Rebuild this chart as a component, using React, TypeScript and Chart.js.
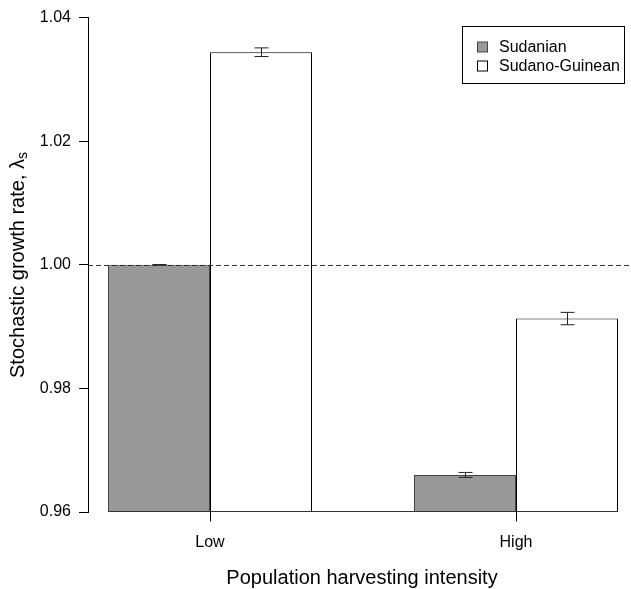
import React, { useEffect, useRef } from "react";
import { Chart, registerables } from "chart.js";
Chart.register(...registerables);

const categories = ["Low", "High"];
const seriesNames = ["Sudanian", "Sudano-Guinean"];
const sudanian = [1.0, 0.966];
const sudanianErr = [0.00004, 0.0004];
const sudanoGuinean = [1.0344, 0.9913];
const sudanoGuineanErr = [0.0007, 0.001];
const yTicks = [0.96, 0.98, 1.0, 1.02, 1.04];
const referenceLine = 1.0;
const xTitle = "Population harvesting intensity";
const yTitleMain = "Stochastic growth rate, λ";
const yTitleSub = "s";

const FONT = "'Liberation Sans', Arial, Helvetica, sans-serif";
const errorsBySeries = [sudanianErr, sudanoGuineanErr];

const overlayPlugin = {
  id: "overlay",
  afterDatasetsDraw(chart: any) {
    const ctx = chart.ctx;
    const ca = chart.chartArea;
    const yS = chart.scales.y;
    ctx.save();
    ctx.lineWidth = 1;
    chart.data.datasets.forEach((ds: any, di: number) => {
      const meta = chart.getDatasetMeta(di);
      meta.data.forEach((el: any, i: number) => {
        const v = ds.data[i].y;
        const e = errorsBySeries[di][i];
        const yt = yS.getPixelForValue(v + e);
        const yb = yS.getPixelForValue(v - e);
        const x = Math.round(el.x) + 0.5;
        ctx.strokeStyle = "#222222";
        ctx.beginPath();
        ctx.moveTo(x, yt);
        ctx.lineTo(x, yb);
        ctx.moveTo(x - 7, yt);
        ctx.lineTo(x + 7, yt);
        ctx.moveTo(x - 7, yb);
        ctx.lineTo(x + 7, yb);
        ctx.stroke();
      });
    });
    const yr = Math.round(yS.getPixelForValue(referenceLine)) + 0.5;
    ctx.strokeStyle = "#333333";
    ctx.setLineDash([5, 3]);
    ctx.beginPath();
    ctx.moveTo(ca.left, yr);
    ctx.lineTo(ca.right, yr);
    ctx.stroke();
    ctx.setLineDash([]);
    ctx.restore();
  },
  afterDraw(chart: any) {
    const ctx = chart.ctx;
    const ca = chart.chartArea;
    const xS = chart.scales.x;
    ctx.save();
    // x axis line and tick marks
    const m0 = chart.getDatasetMeta(0).data[0];
    const mL = chart.getDatasetMeta(chart.data.datasets.length - 1).data;
    const last = mL[mL.length - 1];
    const yb0 = Math.round(ca.bottom) - 0.5;
    ctx.lineWidth = 1;
    ctx.strokeStyle = "#333333";
    ctx.beginPath();
    ctx.moveTo(m0.x - m0.width / 2, yb0);
    ctx.lineTo(last.x + last.width / 2, yb0);
    ctx.stroke();
    ctx.strokeStyle = "#000000";
    ctx.beginPath();
    categories.forEach((_, i) => {
      const px = Math.round(xS.getPixelForValue(i)) + 0.5;
      ctx.moveTo(px, yb0);
      ctx.lineTo(px, yb0 + 10);
    });
    ctx.stroke();
    // legend
    const bx = 462.5, by = 26.5, bw = 162, bh = 57;
    ctx.fillStyle = "#ffffff";
    ctx.fillRect(bx, by, bw, bh);
    ctx.strokeStyle = "#000000";
    ctx.strokeRect(bx, by, bw, bh);
    ctx.font = `16px ${FONT}`;
    ctx.textBaseline = "middle";
    ctx.textAlign = "left";
    chart.data.datasets.forEach((ds: any, i: number) => {
      const cy = 47 + i * 19;
      ctx.fillStyle = ds.backgroundColor;
      ctx.fillRect(477.5, cy - 5, 10, 10);
      ctx.strokeStyle = ds.borderColor;
      ctx.strokeRect(477.5, cy - 5, 10, 10);
      ctx.fillStyle = "#000000";
      ctx.fillText(ds.label, 499, cy + 1);
    });
    // axis titles
    ctx.font = `20px ${FONT}`;
    ctx.textAlign = "center";
    ctx.fillText(xTitle, 362, 578);
    ctx.translate(18, 265);
    ctx.rotate(-Math.PI / 2);
    const mainW = ctx.measureText(yTitleMain).width;
    ctx.font = `14px ${FONT}`;
    const subW = ctx.measureText(yTitleSub).width;
    const total = mainW + subW;
    ctx.textAlign = "left";
    ctx.font = `20px ${FONT}`;
    ctx.fillText(yTitleMain, -total / 2, 0);
    ctx.font = `14px ${FONT}`;
    ctx.fillText(yTitleSub, -total / 2 + mainW, 5);
    ctx.restore();
  },
};

export default function App() {
  const ref = useRef<HTMLCanvasElement | null>(null);
  useEffect(() => {
    if (!ref.current) return;
    const chart = new Chart(ref.current, {
      type: "bar",
      data: {
        datasets: [
          {
            label: seriesNames[0],
            data: sudanian.map((v, i) => ({ x: i, y: v })),
            backgroundColor: "#999999",
            borderColor: "#444444",
            borderWidth: 1,
            borderSkipped: false,
            categoryPercentage: 2 / 3,
            barPercentage: 1,
          } as any,
          {
            label: seriesNames[1],
            data: sudanoGuinean.map((v, i) => ({ x: i, y: v })),
            backgroundColor: "#ffffff",
            borderColor: "#000000",
            borderWidth: 1,
            borderSkipped: false,
            categoryPercentage: 2 / 3,
            barPercentage: 1,
          } as any,
        ],
      },
      options: {
        responsive: false,
        animation: false,
        layout: { padding: { top: 17, left: 0, right: 0, bottom: 0 } },
        plugins: { legend: { display: false }, tooltip: { enabled: false } },
        scales: {
          x: {
            type: "linear",
            offset: false,
            min: -0.3987,
            max: 1.3758,
            afterBuildTicks: (s: any) => {
              s.ticks = categories.map((_, i) => ({ value: i }));
            },
            afterFit: (s: any) => {
              s.height = 77;
            },
            ticks: {
              callback: (v: any) => categories[v as number] ?? "",
              font: { size: 16, family: FONT },
              color: "#000000",
              padding: 12,
              maxRotation: 0,
              autoSkip: false,
            },
            grid: { offset: false, drawOnChartArea: false, drawTicks: true, tickLength: 9, color: "rgba(0,0,0,0)" },
            border: { display: false },
          },
          y: {
            min: 0.96,
            max: 1.04,
            afterBuildTicks: (s: any) => {
              s.ticks = yTicks.map((v) => ({ value: v }));
            },
            afterFit: (s: any) => {
              s.width = 88;
            },
            ticks: {
              callback: (v: any) => Number(v).toFixed(2),
              font: { size: 16, family: FONT },
              color: "#000000",
              padding: 8,
            },
            grid: { drawOnChartArea: false, drawTicks: true, tickLength: 9, color: "#000000" },
            border: { display: true, color: "#000000", width: 1 },
          },
        },
      },
      plugins: [overlayPlugin],
    } as any);
    return () => chart.destroy();
  }, []);
  return (
    <div style={{ position: "absolute", left: 0, top: 0, width: 631, height: 589, background: "#ffffff" }}>
      <canvas ref={ref} width={631} height={589} />
    </div>
  );
}
